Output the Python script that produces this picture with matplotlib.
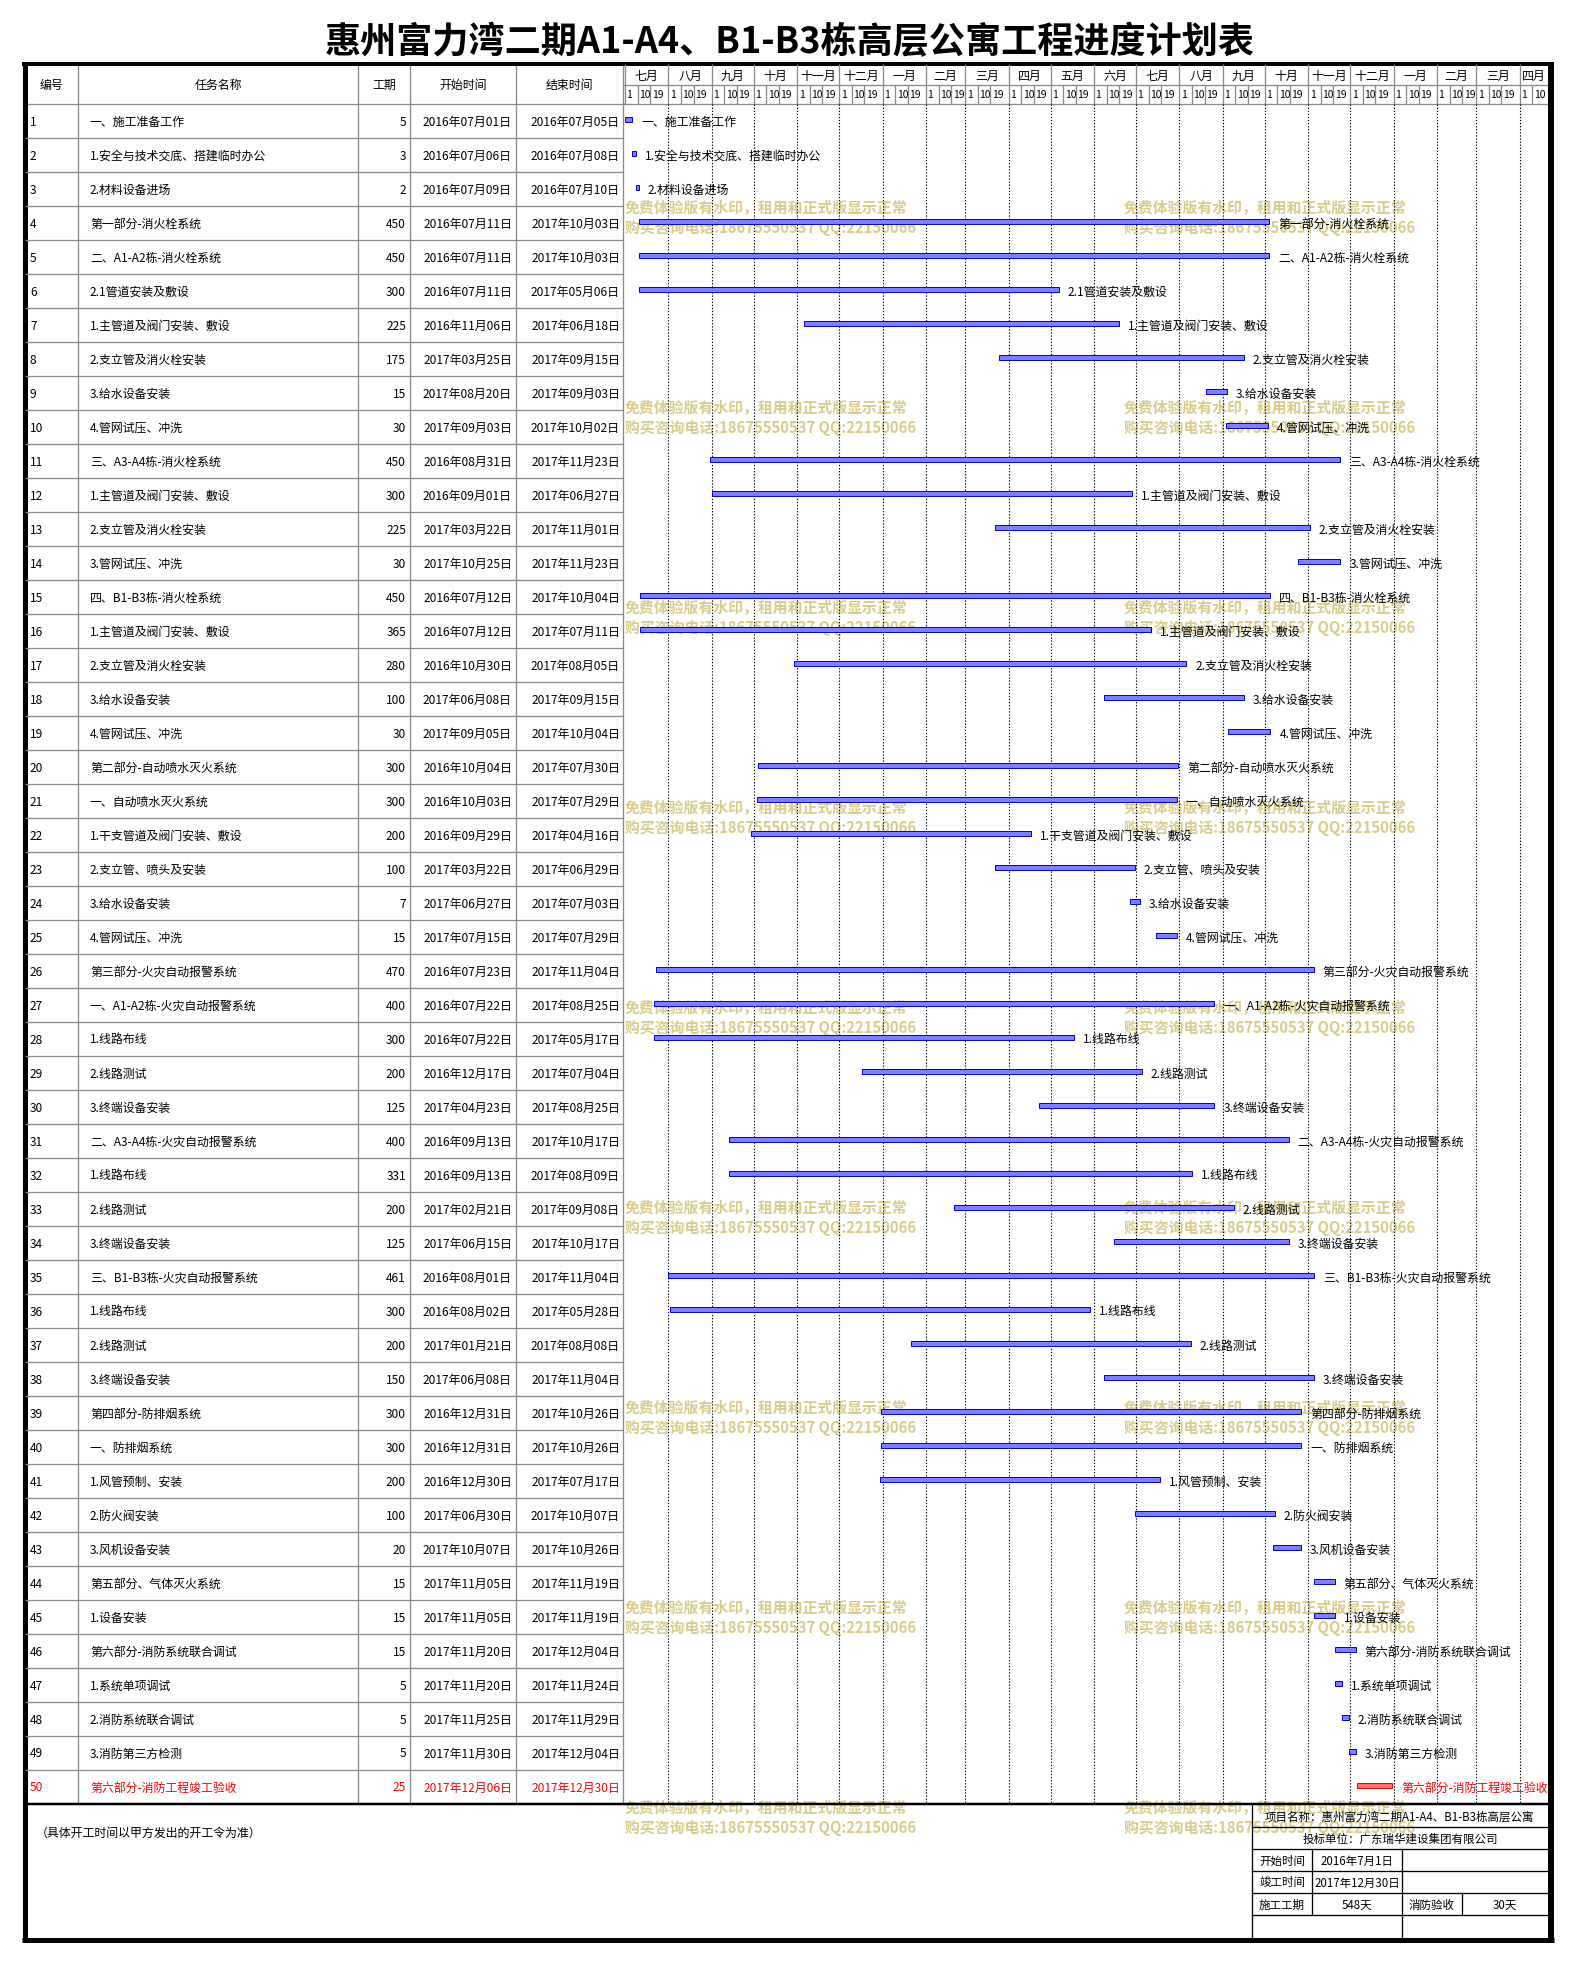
"""
Gantt schedule sheet: fire-protection works, Huizhou Fuliwan phase II.
Table on the left, bar chart on a day scale on the right.
"""
import numpy as np
import pandas as pd
import matplotlib
matplotlib.use("Agg")
import matplotlib.pyplot as plt
import matplotlib.dates as mdates

plt.rcParams["font.family"] = ["Noto Sans CJK SC", "DejaVu Sans"]

W, H = 1575, 1965

TITLE = "惠州富力湾二期A1-A4、B1-B3栋高层公寓工程进度计划表"
HEADERS = ["编号", "任务名称", "工期", "开始时间", "结束时间"]

TASKS = [
    "一、施工准备工作", "1.安全与技术交底、搭建临时办公", "2.材料设备进场",
    "第一部分-消火栓系统", "二、A1-A2栋-消火栓系统", "2.1管道安装及敷设",
    "1.主管道及阀门安装、敷设", "2.支立管及消火栓安装", "3.给水设备安装",
    "4.管网试压、冲洗", "三、A3-A4栋-消火栓系统", "1.主管道及阀门安装、敷设",
    "2.支立管及消火栓安装", "3.管网试压、冲洗", "四、B1-B3栋-消火栓系统",
    "1.主管道及阀门安装、敷设", "2.支立管及消火栓安装", "3.给水设备安装",
    "4.管网试压、冲洗", "第二部分-自动喷水灭火系统", "一、自动喷水灭火系统",
    "1.干支管道及阀门安装、敷设", "2.支立管、喷头及安装", "3.给水设备安装",
    "4.管网试压、冲洗", "第三部分-火灾自动报警系统", "一、A1-A2栋-火灾自动报警系统",
    "1.线路布线", "2.线路测试", "3.终端设备安装",
    "二、A3-A4栋-火灾自动报警系统", "1.线路布线", "2.线路测试",
    "3.终端设备安装", "三、B1-B3栋-火灾自动报警系统", "1.线路布线",
    "2.线路测试", "3.终端设备安装", "第四部分-防排烟系统",
    "一、防排烟系统", "1.风管预制、安装", "2.防火阀安装",
    "3.风机设备安装", "第五部分、气体灭火系统", "1.设备安装",
    "第六部分-消防系统联合调试", "1.系统单项调试", "2.消防系统联合调试",
    "3.消防第三方检测", "第六部分-消防工程竣工验收",
]
DURATIONS = [5, 3, 2, 450, 450, 300, 225, 175, 15, 30,
             450, 300, 225, 30, 450, 365, 280, 100, 30, 300,
             300, 200, 100, 7, 15, 470, 400, 300, 200, 125,
             400, 331, 200, 125, 461, 300, 200, 150, 300, 300,
             200, 100, 20, 15, 15, 15, 5, 5, 5, 25]
STARTS = [
    "2016-07-01", "2016-07-06", "2016-07-09", "2016-07-11", "2016-07-11",
    "2016-07-11", "2016-11-06", "2017-03-25", "2017-08-20", "2017-09-03",
    "2016-08-31", "2016-09-01", "2017-03-22", "2017-10-25", "2016-07-12",
    "2016-07-12", "2016-10-30", "2017-06-08", "2017-09-05", "2016-10-04",
    "2016-10-03", "2016-09-29", "2017-03-22", "2017-06-27", "2017-07-15",
    "2016-07-23", "2016-07-22", "2016-07-22", "2016-12-17", "2017-04-23",
    "2016-09-13", "2016-09-13", "2017-02-21", "2017-06-15", "2016-08-01",
    "2016-08-02", "2017-01-21", "2017-06-08", "2016-12-31", "2016-12-31",
    "2016-12-30", "2017-06-30", "2017-10-07", "2017-11-05", "2017-11-05",
    "2017-11-20", "2017-11-20", "2017-11-25", "2017-11-30", "2017-12-06",
]
ENDS = [
    "2016-07-05", "2016-07-08", "2016-07-10", "2017-10-03", "2017-10-03",
    "2017-05-06", "2017-06-18", "2017-09-15", "2017-09-03", "2017-10-02",
    "2017-11-23", "2017-06-27", "2017-11-01", "2017-11-23", "2017-10-04",
    "2017-07-11", "2017-08-05", "2017-09-15", "2017-10-04", "2017-07-30",
    "2017-07-29", "2017-04-16", "2017-06-29", "2017-07-03", "2017-07-29",
    "2017-11-04", "2017-08-25", "2017-05-17", "2017-07-04", "2017-08-25",
    "2017-10-17", "2017-08-09", "2017-09-08", "2017-10-17", "2017-11-04",
    "2017-05-28", "2017-08-08", "2017-11-04", "2017-10-26", "2017-10-26",
    "2017-07-17", "2017-10-07", "2017-10-26", "2017-11-19", "2017-11-19",
    "2017-12-04", "2017-11-24", "2017-11-29", "2017-12-04", "2017-12-30",
]
HIGHLIGHT = [49]   # last row drawn in red

MONTH_NAMES = ["七月", "八月", "九月", "十月", "十一月", "十二月", "一月", "二月",
               "三月", "四月", "五月", "六月", "七月", "八月", "九月", "十月",
               "十一月", "十二月", "一月", "二月", "三月", "四月"]
DAY_MARKS = [1, 10, 19]

NOTE = "（具体开工时间以甲方发出的开工令为准）"
INFO_PROJECT = "项目名称：惠州富力湾二期A1-A4、B1-B3栋高层公寓"
INFO_BIDDER = "投标单位：广东瑞华建设集团有限公司"
INFO_ROWS = [("开始时间", "2016年7月1日"), ("竣工时间", "2017年12月30日")]
INFO_LAST = ["施工工期", "548天", "消防验收", "30天"]

WM_LINES = ["免费体验版有水印，租用和正式版显示正常", "购买咨询电话:18675550537 QQ:22150066"]

GRAY = "#8a8a8a"
BLUE_FACE, BLUE_EDGE = "#8080ff", "#0000f0"
RED_FACE, RED_EDGE = "#ff7070", "#ff0000"
WM_COLOR = "#d9cc8a"
FS = 8.6


def px(v):
    # pixels -> points at dpi 100
    return v * 0.72


def rect(x0, y0, x1, y1):
    return [x0 / W, 1 - y1 / H, (x1 - x0) / W, (y1 - y0) / H]


starts = pd.to_datetime(STARTS)
ends = pd.to_datetime(ENDS)
n = len(TASKS)

fig = plt.figure(figsize=(W / 100, H / 100), dpi=100)

# ---------- background / frame ----------
bg = fig.add_axes([0, 0, 1, 1], zorder=0)
bg.set_xlim(0, W)
bg.set_ylim(H, 0)
bg.axis("off")

bg.text(790, 43, TITLE, ha="center", va="center", fontsize=26, fontweight="bold")

# column header
col_x = [25, 78, 358, 410, 516, 623]
for i, h in enumerate(HEADERS):
    bg.text((col_x[i] + col_x[i + 1]) / 2, 85, h, ha="center", va="center", fontsize=FS)
for x in col_x[1:]:
    bg.plot([x, x], [65, 1805], color=GRAY, lw=px(1.3))
bg.plot([25, 1548], [105, 105], color=GRAY, lw=px(1.3))

# outer frame
bg.plot([22, 1554], [65, 65], color="k", lw=px(4), solid_capstyle="butt")
bg.plot([25, 25], [63, 1943], color="k", lw=px(5), solid_capstyle="butt")
bg.plot([1551, 1551], [63, 1944], color="k", lw=px(6), solid_capstyle="butt")
bg.plot([22, 1554], [1941, 1941], color="k", lw=px(5), solid_capstyle="butt")
bg.plot([25, 1551], [1805, 1805], color="k", lw=px(2.5), solid_capstyle="butt")

# bottom note and info box
bg.text(36, 1833, NOTE, ha="left", va="center", fontsize=FS)
ib_l, ib_r = 1252, 1549
for y in [1828, 1850, 1872, 1894, 1916]:
    bg.plot([ib_l, ib_r], [y, y], color="k", lw=px(1.3))
bg.plot([ib_l, ib_l], [1805, 1940], color="k", lw=px(1.3))
bg.plot([1312, 1312], [1850, 1916], color="k", lw=px(1.3))
bg.plot([1402, 1402], [1850, 1938], color="k", lw=px(1.3))
bg.plot([1462, 1462], [1894, 1916], color="k", lw=px(1.3))
bg.text(1265, 1817, INFO_PROJECT, ha="left", va="center", fontsize=8.3)
bg.text(1400, 1839, INFO_BIDDER, ha="center", va="center", fontsize=8.3)
for k, (lab, val) in enumerate(INFO_ROWS):
    y = 1861 + 22 * k
    bg.text(1282, y, lab, ha="center", va="center", fontsize=8.3)
    bg.text(1357, y, val, ha="center", va="center", fontsize=8.3)
for cx, s in zip([1282, 1357, 1432, 1505], INFO_LAST):
    bg.text(cx, 1905, s, ha="center", va="center", fontsize=8.3)

# trial-version watermark
for k in range(9):
    for x0 in [625, 1124]:
        for j, line in enumerate(WM_LINES):
            bg.text(x0, 208 + 200 * k + 20 * j, line, ha="left", va="center",
                    fontsize=10.7, fontweight="bold", color=WM_COLOR, zorder=1)

# ---------- table body ----------
tb = fig.add_axes(rect(25, 105, 623, 1805), zorder=1)
tb.set_xlim(25, 623)
tb.set_ylim(n, 0)
tb.axis("off")
tb.patch.set_alpha(0)
tb.hlines(np.arange(1, n), 25, 623, color=GRAY, lw=px(1.3))
for i in range(n):
    y = i + 0.5
    c = "#ff0000" if i in HIGHLIGHT else "k"
    tb.text(30, y, str(i + 1), ha="left", va="center", fontsize=FS, color=c)
    tb.text(90, y, TASKS[i], ha="left", va="center", fontsize=FS, color=c)
    tb.text(406, y, str(DURATIONS[i]), ha="right", va="center", fontsize=FS, color=c)
    tb.text(512, y, starts[i].strftime("%Y年%m月%d日"), ha="right", va="center", fontsize=FS, color=c)
    tb.text(620, y, ends[i].strftime("%Y年%m月%d日"), ha="right", va="center", fontsize=FS, color=c)

# ---------- gantt ----------
d0 = mdates.date2num(pd.Timestamp("2016-07-01"))
scale = 1.4  # px per day
xlim = (d0 - 2 / scale, d0 + (1548 - 625) / scale)

gx = fig.add_axes(rect(623, 105, 1548, 1805), zorder=2)
gx.set_xlim(*xlim)
gx.set_ylim(n, 0)
gx.axis("off")
gx.patch.set_alpha(0)

months = pd.date_range("2016-07-01", periods=len(MONTH_NAMES), freq="MS")
mnum = mdates.date2num(months)
gx.vlines(mnum[1:], 0, n, colors="k", linestyles=(0, (1.2, 1.6)), lw=px(1.1))

left = mdates.date2num(starts)
width = mdates.date2num(ends) - left + 1
face = [RED_FACE if i in HIGHLIGHT else BLUE_FACE for i in range(n)]
edge = [RED_EDGE if i in HIGHLIGHT else BLUE_EDGE for i in range(n)]
gx.barh(np.arange(n) + 0.45, width, left=left, height=0.13,
        color=face, edgecolor=edge, lw=px(1), zorder=3)
for i in range(n):
    c = "#ff0000" if i in HIGHLIGHT else "k"
    gx.annotate(TASKS[i], xy=(left[i] + width[i], i + 0.5), xytext=(px(9), 0),
                textcoords="offset points", ha="left", va="center",
                fontsize=FS, color=c, annotation_clip=False, zorder=4)

# month / day header
gh = fig.add_axes(rect(623, 65, 1548, 105), zorder=2)
gh.set_xlim(*xlim)
gh.set_ylim(40, 0)
gh.axis("off")
gh.patch.set_alpha(0)
gh.hlines(21, *xlim, color=GRAY, lw=px(1.3))
gh.vlines(mnum, 0, 40, color=GRAY, lw=px(1.3))
for k, name in enumerate(MONTH_NAMES):
    m_end = min(mnum[k] + months[k].days_in_month, xlim[1])
    gh.text((mnum[k] + m_end) / 2, 11, name, ha="center", va="center", fontsize=FS)
    for d in DAY_MARKS:
        x = mnum[k] + d - 1
        if x >= xlim[1] - 3:
            continue
        if d != 1:
            gh.vlines(x, 21, 40, color=GRAY, lw=px(1.3))
        gh.annotate(str(d), xy=(x, 30.5), xytext=(px(1.5), 0), textcoords="offset points",
                    ha="left", va="center", fontsize=7.5)

fig.savefig("out.png", dpi=100)
